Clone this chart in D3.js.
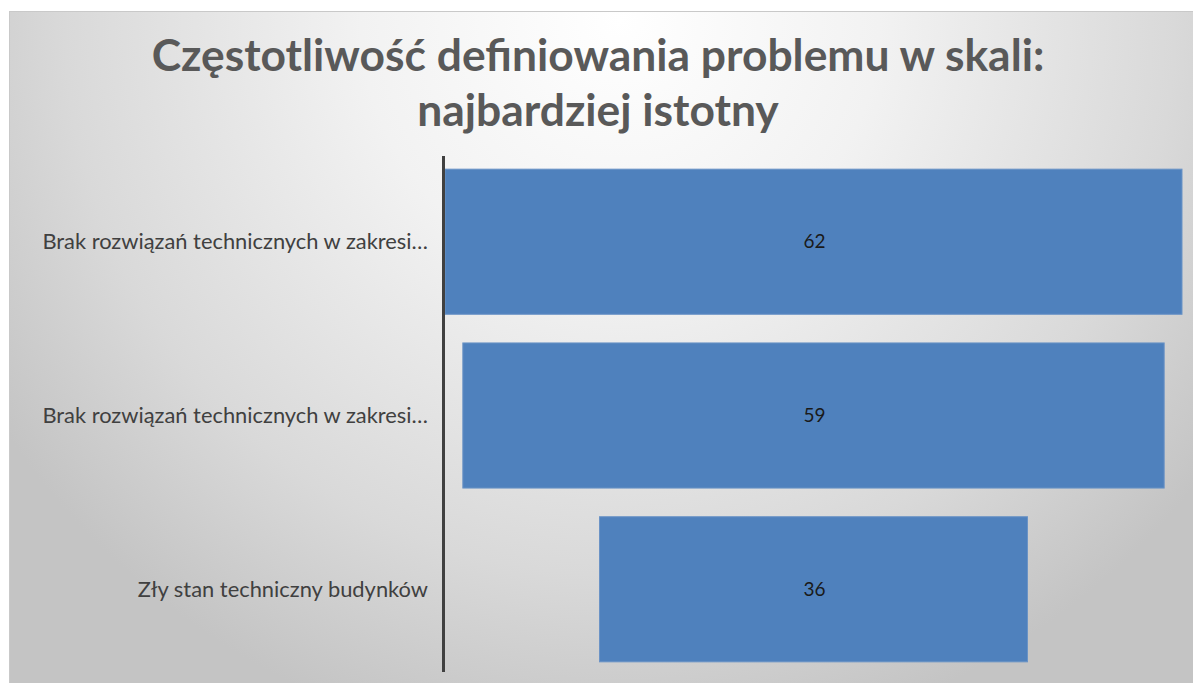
<!DOCTYPE html>
<html>
<head>
<meta charset="utf-8">
<script src="https://cdn.jsdelivr.net/npm/d3@7"></script>
<style>
  html, body { margin: 0; padding: 0; background: #ffffff; }
  svg { display: block; }
</style>
</head>
<body>
<svg id="chart" width="1193" height="683"></svg>
<script>
// ---- data ----
const titleLines = ["Częstotliwość definiowania problemu w skali:", "najbardziej istotny"];
const categories = [
  "Brak rozwiązań technicznych w zakresi…",
  "Brak rozwiązań technicznych w zakresi…",
  "Zły stan techniczny budynków"
];
const values = [62, 59, 36];

// ---- layout ----
const W = 1193, H = 683;
const frame = { x: 9.5, y: 11.5 };
const plot = { left: 445, right: 1182, top: 157, bottom: 674 };
const axisX = 443.5;

const svg = d3.select("#chart");
const defs = svg.append("defs");
const grad = defs.append("radialGradient")
  .attr("id", "bg")
  .attr("gradientUnits", "userSpaceOnUse")
  .attr("cx", 620).attr("cy", 20).attr("r", 740)
  .attr("fx", 620).attr("fy", 20);
grad.append("stop").attr("offset", 0).attr("stop-color", "#ffffff");
grad.append("stop").attr("offset", 0.35).attr("stop-color", "#f2f2f2");
grad.append("stop").attr("offset", 0.75).attr("stop-color", "#d9d9d9");
grad.append("stop").attr("offset", 1).attr("stop-color", "#c4c4c4");

svg.append("rect")
  .attr("x", frame.x).attr("y", frame.y)
  .attr("width", W - frame.x + 2).attr("height", H - frame.y + 2)
  .attr("fill", "url(#bg)")
  .attr("stroke", "#c9c9c9").attr("stroke-width", 1);

// title
const titleFont = "Lato, 'Open Sans', sans-serif";
const tg = svg.append("g");
const t1 = tg.append("text")
  .attr("x", 598).attr("y", 71)
  .attr("text-anchor", "middle")
  .attr("font-family", titleFont).attr("font-weight", 700)
  .attr("font-size", 36).attr("fill", "#595959")
  .text(titleLines[0]);
// fit first line to measured width in reference
const w1 = t1.node().getComputedTextLength();
const titleSize = 36 * 893 / w1;
t1.attr("font-size", titleSize);
tg.append("text")
  .attr("x", 598).attr("y", 126)
  .attr("text-anchor", "middle")
  .attr("font-family", titleFont).attr("font-weight", 700)
  .attr("font-size", titleSize).attr("fill", "#595959")
  .text(titleLines[1]);

// scales
const y = d3.scaleBand()
  .domain(d3.range(categories.length))
  .range([plot.top, plot.bottom])
  .paddingInner(0.165).paddingOuter(0.07);
const w = d3.scaleLinear()
  .domain([0, d3.max(values)])
  .range([0, plot.right - plot.left]);
const cx = (plot.left + plot.right) / 2;

// bars
svg.append("g").selectAll("rect")
  .data(values)
  .join("rect")
  .attr("x", d => cx - w(d) / 2)
  .attr("y", (d, i) => y(i))
  .attr("width", d => w(d))
  .attr("height", y.bandwidth())
  .attr("fill", "#4f81bd")
  .attr("stroke", "#6a93c6").attr("stroke-width", 1);

// value labels
svg.append("g").selectAll("text")
  .data(values)
  .join("text")
  .attr("x", cx + 1)
  .attr("y", (d, i) => y(i) + y.bandwidth() / 2)
  .attr("dy", "0.35em")
  .attr("text-anchor", "middle")
  .attr("font-family", "Lato, 'Open Sans', sans-serif")
  .attr("font-size", 19)
  .attr("fill", "#1a1a1a")
  .text(d => d);

// category labels
const labelG = svg.append("g");
const lbls = labelG.selectAll("text")
  .data(categories)
  .join("text")
  .attr("x", 428)
  .attr("y", (d, i) => y(i) + y.bandwidth() / 2)
  .attr("dy", "0.35em")
  .attr("text-anchor", "end")
  .attr("font-family", "Lato, 'Open Sans', sans-serif")
  .attr("font-size", 16)
  .attr("fill", "#404040")
  .text(d => d);
const lw = lbls.nodes()[0].getComputedTextLength();
lbls.attr("font-size", 16 * 386 / lw);

// axis line (category axis)
svg.append("line")
  .attr("x1", axisX).attr("x2", axisX)
  .attr("y1", 156).attr("y2", 672)
  .attr("stroke", "#404040").attr("stroke-width", 3);
</script>
</body>
</html>
